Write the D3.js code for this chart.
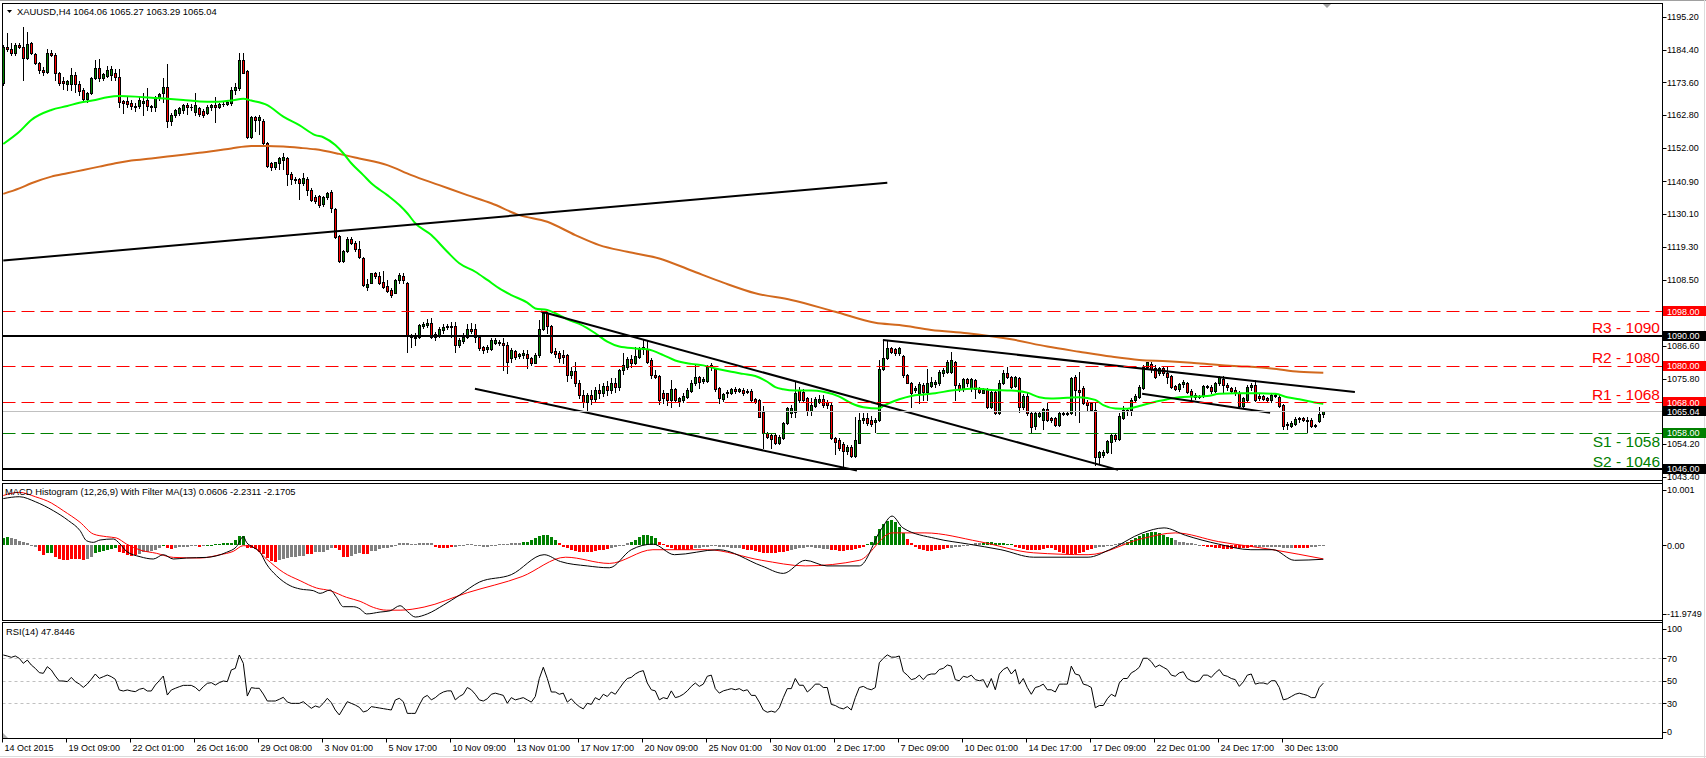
<!DOCTYPE html>
<html><head><meta charset="utf-8">
<script src="https://cdn.jsdelivr.net/npm/d3@7"></script>
<style>html,body{margin:0;padding:0;background:#fff;}svg{display:block;}</style>
</head><body><svg id="c" width="1706" height="758"></svg>
<script>
// ---------------- DATA ----------------
const candleOHLC = [
[1173.3,1185.8,1172.8,1185.2],[1185.2,1190.0,1184.1,1184.5],[1184.5,1186.5,1182.7,1183.2],[1183.2,1186.5,1182.7,1185.9],[1185.9,1186.5,1184.8,1185.2],
[1185.4,1192.0,1174.4,1181.5],[1181.5,1190.3,1181.2,1186.3],[1186.5,1187.0,1183.0,1183.2],[1183.0,1183.2,1179.7,1179.9],[1179.9,1180.4,1176.6,1177.7],
[1177.7,1178.6,1176.0,1177.1],[1177.1,1184.5,1176.8,1183.2],[1183.2,1184.3,1182.3,1182.6],[1182.6,1183.2,1174.4,1176.8],[1176.8,1177.1,1172.7,1173.5],
[1173.9,1175.3,1171.3,1173.5],[1173.1,1174.4,1171.1,1173.9],[1173.1,1178.2,1171.1,1176.0],[1176.0,1177.1,1170.5,1173.0],[1173.0,1173.9,1169.4,1170.9],
[1171.1,1171.6,1167.6,1168.0],[1168.0,1170.5,1167.2,1170.2],[1170.2,1175.5,1169.8,1174.9],[1174.9,1181.0,1174.6,1178.2],[1178.2,1181.2,1174.2,1174.9],
[1174.9,1176.6,1174.4,1176.3],[1175.7,1179.0,1175.3,1177.7],[1175.9,1179.0,1174.4,1177.9],[1176.6,1177.9,1174.4,1175.3],[1175.3,1177.9,1165.6,1167.2],
[1167.6,1167.8,1163.6,1166.7],[1167.6,1169.1,1165.4,1166.5],[1166.9,1167.8,1164.7,1165.8],[1165.8,1166.7,1164.3,1165.4],[1165.8,1169.1,1165.0,1167.8],
[1166.7,1170.2,1162.8,1167.6],[1167.8,1171.6,1164.5,1165.8],[1165.8,1166.1,1164.1,1165.4],[1165.4,1169.1,1164.3,1168.9],[1168.3,1170.0,1167.8,1169.8],
[1170.0,1174.9,1167.2,1172.2],[1172.2,1179.7,1158.9,1161.0],[1161.0,1163.6,1159.5,1162.8],[1162.8,1164.9,1162.3,1164.5],[1163.6,1165.4,1162.8,1165.0],
[1164.5,1166.5,1163.6,1166.1],[1166.1,1166.7,1163.2,1165.6],[1165.4,1166.5,1164.5,1165.6],[1163.9,1170.2,1162.8,1166.1],[1165.0,1165.4,1162.5,1163.2],
[1164.3,1164.7,1162.3,1162.8],[1163.6,1166.1,1163.2,1165.6],[1165.4,1166.5,1164.5,1166.1],[1166.1,1168.9,1160.6,1165.4],[1165.4,1166.9,1165.0,1166.5],
[1166.6,1167.2,1165.8,1166.6],[1166.5,1167.8,1166.1,1167.0],[1166.7,1172.0,1166.1,1171.1],[1171.1,1173.5,1169.8,1172.2],[1171.6,1183.2,1171.1,1181.0],
[1181.0,1183.2,1176.6,1176.8],[1177.4,1177.7,1155.1,1155.7],[1155.7,1162.5,1155.1,1162.3],[1162.3,1162.5,1157.5,1161.2],[1161.2,1162.8,1156.4,1162.3],
[1161.0,1161.4,1152.9,1153.5],[1153.5,1154.0,1145.6,1146.1],[1146.9,1147.4,1144.7,1145.8],[1145.8,1147.4,1145.0,1147.4],[1146.9,1148.9,1144.9,1148.5],
[1148.0,1150.2,1144.9,1148.9],[1148.7,1148.9,1139.7,1143.4],[1143.4,1144.0,1140.0,1141.6],[1141.6,1142.5,1140.5,1141.4],[1141.6,1142.0,1135.0,1140.5],
[1140.3,1143.6,1139.7,1142.0],[1141.6,1142.5,1136.4,1138.1],[1138.1,1138.6,1134.6,1134.8],[1135.7,1136.4,1133.7,1134.6],[1136.1,1136.4,1132.6,1133.1],
[1133.4,1136.1,1132.8,1135.9],[1135.9,1137.5,1135.2,1137.2],[1137.5,1138.1,1130.9,1132.0],[1131.7,1132.0,1122.4,1122.7],[1122.9,1123.2,1114.4,1114.8],
[1114.8,1118.3,1114.4,1117.9],[1117.9,1122.7,1117.7,1121.8],[1121.8,1122.7,1120.3,1120.7],[1120.7,1121.4,1118.1,1118.5],[1118.5,1121.4,1115.5,1115.9],
[1115.5,1115.9,1106.4,1106.7],[1106.1,1108.6,1105.2,1107.2],[1107.5,1110.8,1107.3,1110.6],[1110.6,1111.1,1108.9,1109.7],[1109.7,1111.1,1107.1,1107.3],
[1107.8,1111.5,1105.6,1106.2],[1106.4,1108.4,1104.5,1104.9],[1105.1,1105.6,1102.9,1103.4],[1104.2,1108.6,1104.0,1108.4],[1108.4,1110.6,1107.3,1110.0],
[1109.7,1110.6,1107.3,1108.4],[1107.5,1107.8,1084.7,1090.2],[1090.2,1090.4,1086.4,1089.7],[1089.7,1090.8,1086.9,1089.1],[1089.7,1093.9,1089.1,1093.5],
[1093.2,1094.6,1092.4,1093.9],[1093.5,1095.4,1093.0,1094.3],[1094.1,1095.7,1089.1,1089.7],[1090.6,1091.3,1088.6,1089.7],[1090.2,1093.0,1089.7,1092.1],
[1091.9,1093.9,1090.8,1093.0],[1093.0,1093.9,1092.1,1093.2],[1093.2,1094.6,1089.7,1092.8],[1093.2,1094.6,1084.7,1086.9],[1086.9,1089.1,1086.4,1088.6],
[1088.4,1090.8,1087.5,1089.7],[1089.5,1093.9,1089.1,1092.1],[1092.1,1094.1,1090.8,1091.7],[1092.1,1093.9,1088.0,1089.5],[1089.5,1089.9,1085.3,1085.8],
[1086.2,1086.6,1084.4,1085.3],[1085.5,1086.9,1084.7,1086.4],[1085.5,1089.1,1085.3,1088.6],[1087.7,1089.1,1087.3,1088.6],[1088.0,1088.6,1086.9,1087.7],
[1087.7,1089.1,1078.7,1086.9],[1086.9,1088.0,1077.6,1081.4],[1082.5,1085.8,1081.4,1085.3],[1085.1,1085.3,1082.2,1082.9],[1083.3,1084.2,1082.5,1083.8],
[1083.7,1085.3,1082.5,1084.2],[1083.8,1085.3,1079.2,1082.5],[1082.5,1083.1,1080.3,1080.9],[1081.1,1084.2,1080.9,1083.6],[1083.6,1095.2,1083.1,1092.1],
[1092.1,1097.9,1091.9,1097.6],[1097.6,1097.9,1090.8,1093.2],[1093.2,1093.5,1084.4,1084.7],[1085.1,1085.8,1083.1,1084.0],[1084.2,1085.1,1081.4,1082.5],
[1083.6,1085.3,1080.9,1083.1],[1083.6,1084.0,1075.0,1077.0],[1077.0,1079.5,1076.0,1078.2],[1078.2,1081.2,1073.5,1074.5],[1074.5,1075.5,1069.5,1070.5],
[1070.5,1072.0,1066.5,1068.0],[1068.0,1071.0,1065.5,1070.5],[1070.5,1072.0,1067.5,1069.0],[1069.0,1073.0,1068.0,1072.0],[1072.0,1074.0,1069.5,1071.0],
[1071.0,1074.5,1070.0,1073.5],[1073.5,1075.0,1070.5,1072.0],[1072.0,1076.0,1071.0,1074.5],[1074.5,1076.0,1071.5,1073.0],[1073.0,1079.0,1072.0,1078.7],
[1078.7,1084.2,1077.5,1080.3],[1079.8,1083.0,1079.0,1082.2],[1082.2,1083.5,1079.5,1081.0],[1081.1,1086.4,1080.5,1083.3],[1083.1,1086.4,1082.5,1085.5],
[1085.5,1088.6,1084.0,1086.4],[1085.5,1088.6,1081.0,1081.4],[1082.0,1082.5,1075.9,1077.0],[1077.0,1078.7,1075.9,1076.5],[1076.7,1077.0,1067.5,1068.8],
[1071.0,1072.1,1067.7,1069.3],[1071.0,1071.2,1067.1,1068.8],[1068.8,1075.4,1066.4,1072.3],[1072.3,1072.6,1068.2,1068.8],[1068.4,1069.9,1066.8,1069.3],
[1068.8,1071.0,1068.2,1070.1],[1069.9,1072.6,1069.3,1072.1],[1071.9,1075.4,1071.5,1074.5],[1074.3,1080.3,1073.7,1076.3],[1076.3,1076.7,1072.6,1074.8],
[1074.9,1076.5,1074.5,1075.8],[1075.2,1080.3,1074.8,1079.8],[1079.8,1080.9,1078.7,1080.3],[1078.9,1079.2,1071.9,1072.3],[1072.6,1073.0,1067.7,1069.3],
[1069.0,1071.2,1068.6,1070.8],[1071.0,1072.1,1069.9,1071.5],[1071.2,1072.6,1070.8,1072.3],[1072.5,1073.0,1071.2,1071.9],[1071.9,1072.6,1071.5,1072.3],
[1072.1,1072.6,1070.4,1071.0],[1071.5,1072.3,1071.0,1071.9],[1071.9,1072.3,1068.2,1068.8],[1069.0,1069.3,1067.7,1068.2],[1068.8,1069.0,1063.1,1063.3],
[1064.9,1066.8,1052.8,1057.8],[1058.0,1058.3,1056.1,1056.7],[1057.2,1058.0,1052.8,1055.8],[1057.2,1057.8,1054.3,1054.5],[1054.7,1057.2,1054.3,1056.5],
[1056.1,1061.6,1055.8,1061.3],[1061.3,1066.6,1060.9,1066.0],[1064.4,1067.1,1063.3,1066.0],[1064.9,1075.0,1063.1,1071.2],[1072.1,1073.0,1068.2,1068.8],
[1071.5,1072.3,1068.2,1068.8],[1069.3,1069.7,1063.8,1065.3],[1065.3,1069.3,1063.8,1067.1],[1066.8,1069.9,1066.4,1069.0],[1068.2,1070.4,1067.7,1069.0],
[1069.0,1070.4,1066.6,1067.1],[1068.2,1068.8,1066.0,1067.1],[1067.1,1067.7,1055.8,1056.1],[1056.1,1056.7,1051.0,1055.0],[1055.6,1056.1,1052.3,1052.8],
[1054.3,1055.0,1046.8,1052.1],[1052.1,1054.0,1051.0,1053.4],[1053.4,1054.0,1050.1,1050.3],[1050.3,1063.3,1050.1,1055.6],[1054.7,1064.4,1054.5,1062.2],
[1062.2,1064.4,1061.1,1062.7],[1062.7,1064.4,1060.5,1061.1],[1062.2,1063.5,1060.2,1060.9],[1061.6,1062.7,1058.3,1062.2],[1062.2,1082.0,1062.0,1078.9],
[1078.9,1088.6,1078.7,1082.5],[1082.5,1088.4,1082.2,1085.8],[1085.8,1086.4,1084.2,1084.7],[1085.5,1085.8,1083.6,1084.2],[1084.4,1086.4,1083.6,1085.8],
[1083.3,1083.6,1076.5,1077.0],[1077.0,1077.4,1074.3,1074.5],[1074.5,1074.8,1066.6,1071.0],[1072.1,1073.4,1071.5,1072.8],[1071.0,1074.8,1067.7,1074.1],
[1073.7,1074.3,1068.8,1071.5],[1071.5,1078.9,1068.8,1074.3],[1073.4,1076.5,1073.0,1074.8],[1074.1,1075.4,1073.2,1074.8],[1074.3,1078.7,1073.7,1078.1],
[1077.6,1079.2,1076.7,1078.7],[1078.1,1082.0,1077.6,1081.4],[1078.1,1084.7,1077.8,1082.0],[1081.4,1081.8,1068.8,1073.7],[1073.7,1074.3,1071.9,1072.3],
[1072.3,1075.9,1071.9,1075.6],[1075.6,1075.9,1073.4,1074.3],[1072.6,1075.9,1071.9,1075.6],[1075.4,1075.6,1069.3,1072.3],[1072.3,1073.0,1071.0,1071.5],
[1071.2,1072.6,1071.0,1072.1],[1072.1,1072.6,1066.2,1066.6],[1066.6,1072.3,1066.0,1071.5],[1071.5,1071.9,1064.2,1064.6],[1064.4,1075.4,1064.2,1074.5],
[1074.3,1078.7,1074.1,1077.8],[1077.8,1079.8,1076.0,1076.3],[1076.3,1076.7,1072.6,1073.0],[1073.4,1076.7,1073.0,1076.3],[1076.0,1076.5,1064.9,1066.4],
[1066.4,1070.8,1065.8,1070.1],[1070.1,1071.0,1063.8,1064.4],[1064.4,1064.9,1058.3,1059.8],[1060.2,1065.0,1059.1,1064.4],[1063.5,1065.0,1063.0,1064.6],
[1062.2,1066.0,1059.1,1065.7],[1065.7,1067.7,1062.0,1062.2],[1062.7,1063.3,1061.6,1062.2],[1062.7,1063.1,1060.2,1060.5],[1060.5,1064.9,1060.2,1064.6],
[1064.2,1064.9,1063.8,1064.6],[1064.6,1065.0,1063.8,1064.2],[1064.4,1076.5,1064.2,1075.9],[1076.5,1077.0,1063.8,1072.1],[1072.1,1078.1,1061.6,1071.5],
[1072.6,1073.4,1067.5,1067.7],[1068.2,1068.8,1065.5,1067.1],[1067.7,1068.2,1065.0,1065.5],[1065.5,1068.2,1047.3,1050.1],[1050.1,1052.1,1047.9,1051.7],
[1050.6,1052.3,1050.1,1051.7],[1051.7,1055.6,1051.2,1055.4],[1055.0,1057.6,1051.2,1057.2],[1057.2,1057.8,1055.4,1055.8],[1055.8,1064.4,1055.6,1063.5],
[1062.7,1066.8,1062.4,1065.5],[1065.0,1066.0,1063.8,1065.5],[1065.5,1069.3,1063.8,1068.8],[1068.8,1070.8,1068.6,1070.1],[1069.7,1073.7,1069.3,1073.0],
[1072.6,1080.3,1072.3,1079.8],[1079.8,1081.4,1079.2,1081.2],[1080.7,1081.4,1078.1,1079.0],[1079.2,1080.3,1075.9,1076.3],[1077.6,1079.8,1077.0,1079.2],
[1079.2,1079.8,1077.0,1077.6],[1077.6,1079.8,1074.3,1076.5],[1076.7,1077.0,1072.6,1073.0],[1073.4,1073.7,1072.1,1072.3],[1072.3,1074.5,1071.9,1074.1],
[1074.1,1075.4,1073.2,1074.8],[1074.3,1074.8,1071.0,1071.5],[1071.9,1072.3,1068.2,1070.4],[1070.4,1071.0,1069.0,1069.7],[1069.9,1070.4,1069.3,1070.1],
[1070.1,1073.7,1069.7,1073.4],[1073.4,1073.7,1072.6,1073.0],[1073.2,1073.7,1071.2,1071.9],[1071.9,1074.8,1071.5,1074.5],[1074.3,1076.7,1073.7,1076.3],
[1075.6,1076.7,1071.2,1073.7],[1073.7,1074.3,1072.1,1073.0],[1072.6,1073.0,1071.5,1071.9],[1072.1,1073.0,1070.4,1071.2],[1071.0,1071.9,1066.6,1066.8],
[1066.8,1069.9,1066.6,1069.3],[1068.8,1073.7,1068.6,1073.0],[1073.0,1074.5,1072.1,1073.7],[1073.7,1075.4,1068.6,1068.8],[1070.1,1071.0,1068.8,1069.3],
[1070.1,1070.4,1068.8,1069.2],[1069.3,1069.7,1068.6,1068.8],[1068.8,1071.0,1068.2,1070.4],[1070.4,1071.0,1069.7,1070.0],[1069.9,1070.4,1066.6,1066.8],
[1067.1,1067.5,1059.1,1060.2],[1060.5,1061.6,1059.1,1060.9],[1060.2,1062.0,1059.8,1061.3],[1060.9,1063.1,1060.4,1062.4],[1062.4,1063.3,1061.6,1062.7],
[1062.7,1063.3,1062.0,1062.2],[1062.2,1063.3,1058.3,1061.8],[1062.2,1062.7,1060.0,1060.2],[1060.4,1060.7,1060.0,1060.2],[1062.0,1066.6,1061.6,1064.2],
[1064.06,1065.27,1063.29,1065.04]
];

const xTickBars = [0,16,32,48,64,80,96,112,128,144,160,176,192,208,224,240,256,272,288,304,320];
const xTickLabels = ["14 Oct 2015","19 Oct 09:00","22 Oct 01:00","26 Oct 16:00","29 Oct 08:00","3 Nov 01:00","5 Nov 17:00","10 Nov 09:00","13 Nov 01:00","17 Nov 17:00","20 Nov 09:00","25 Nov 01:00","30 Nov 01:00","2 Dec 17:00","7 Dec 09:00","10 Dec 01:00","14 Dec 17:00","17 Dec 09:00","22 Dec 01:00","24 Dec 17:00","30 Dec 13:00"];
const priceTicks = [1195.20,1184.40,1173.60,1162.80,1152.00,1140.90,1130.10,1119.30,1108.50,1086.60,1075.80,1054.20,1043.40];

// moving averages: [bar, price]
const maFast = [[0,1153.3],[4,1157.3],[7,1161.2],[12,1164.5],[16,1165.8],[19,1166.9],[23,1167.8],[26,1168.7],[29,1169.1],[33,1168.9],[37,1168.5],[41,1168.2],[45,1167.8],[49,1167.3],[53,1167.2],[57,1167.6],[60,1168.2],[62,1167.6],[66,1166.1],[70,1162.3],[74,1159.5],[78,1156.2],[80,1155.5],[83,1152.9],[85,1150.2],[87,1146.9],[90,1143.0],[92,1140.3],[96,1136.4],[99,1133.1],[101,1130.4],[103,1127.1],[107,1123.2],[111,1117.7],[114,1113.9],[118,1111.1],[121,1108.4],[124,1105.6],[127,1103.4],[131,1100.9],[133,1099.0],[136,1098.5],[138,1097.4],[141,1095.4],[144,1093.9],[148,1090.8],[151,1088.0],[154,1086.4],[158,1085.8],[161,1085.5],[165,1083.6],[168,1081.8],[172,1080.7],[175,1080.2],[178,1079.2],[182,1078.1],[185,1077.4],[188,1076.7],[191,1074.8],[193,1073.0],[195,1072.3],[198,1071.9],[202,1071.9],[205,1071.5],[209,1069.9],[212,1067.7],[215,1066.4],[219,1066.0],[220,1066.8],[224,1069.0],[227,1070.1],[230,1070.6],[233,1071.0],[237,1071.9],[240,1072.3],[243,1072.6],[247,1072.1],[252,1071.9],[256,1071.2],[259,1069.7],[262,1069.3],[266,1069.5],[269,1069.7],[273,1068.8],[275,1067.1],[278,1066.0],[281,1065.9],[284,1066.8],[288,1068.2],[291,1069.0],[294,1069.7],[298,1069.9],[301,1070.1],[304,1070.8],[308,1071.0],[311,1071.0],[314,1071.0],[318,1070.8],[321,1069.7],[324,1069.0],[327,1068.2],[330,1067.5]];
const maSlow = [[0,1136.8],[4,1138.6],[7,1140.3],[12,1142.5],[16,1143.6],[20,1144.7],[24,1145.8],[28,1146.9],[32,1147.8],[37,1148.5],[41,1149.1],[45,1149.7],[49,1150.4],[53,1151.0],[57,1151.8],[62,1152.6],[66,1152.6],[70,1152.4],[74,1152.0],[78,1151.5],[84,1150.0],[89,1148.5],[96,1146.3],[102,1143.0],[109,1139.7],[116,1136.4],[122,1133.7],[129,1129.8],[136,1127.6],[143,1123.2],[149,1119.9],[156,1117.7],[164,1115.5],[172,1111.5],[180,1107.5],[188,1104.0],[197,1101.8],[208,1097.9],[218,1094.3],[224,1093.5],[232,1091.9],[241,1090.8],[246,1090.0],[252,1088.8],[261,1086.4],[269,1084.7],[277,1083.1],[284,1082.0],[291,1081.6],[297,1081.1],[304,1080.3],[311,1079.8],[317,1079.2],[324,1078.1],[330,1077.8]];

// drawn trend lines: [[bar, price],[bar, price]]
const trendLines = [
 [[0,1114.8],[221,1140.5]],
 [[134.4,1098.0],[278.7,1045.7]],
 [[117.9,1072.5],[213.4,1045.5]],
 [[219.9,1088.6],[337.9,1071.4]],
 [[284.7,1070.8],[316.7,1064.6]]
];

const levelPrices = [1098,1090,1080,1068,1058,1046];
const levelKinds  = ["res","major","res","res","sup","major"];
const currentPrice = 1065.04;
const levelTexts = ["R3 - 1090","R2 - 1080","R1 - 1068","S1 - 1058","S2 - 1046"];
const levelTextPrices = [1090,1080,1068,1052.5,1046];
const levelTextKinds = ["res","res","res","sup","sup"];

const macdHist = [
1.2,1.3,1.2,1.0,0.75,0.5,0.3,0.1,-0.2,-0.96,
-1.5,-1.28,-1.28,-1.93,-2.2,-2.35,-2.35,-2.25,-2.25,-2.25,
-2.35,-2.2,-1.93,-1.28,-1.12,-0.86,-0.7,-0.59,-0.43,-1.12,
-1.28,-1.5,-1.66,-1.5,-1.4,-1.12,-1.12,-0.96,-0.75,-0.35,
0.1,-0.43,-0.59,-0.43,-0.32,-0.2,-0.2,-0.1,-0.05,-0.2,
-0.1,0.1,0.1,0.15,0.25,0.3,0.4,0.45,0.86,1.55,
1.55,-0.43,-0.43,-0.64,-1.12,-1.39,-2.03,-2.46,-2.73,-2.35,
-2.2,-2.0,-1.9,-1.8,-1.7,-1.66,-1.39,-1.39,-1.12,-1.12,
-1.1,-0.8,-0.5,-0.43,-0.75,-1.82,-1.93,-1.66,-1.39,-1.28,
-1.39,-1.39,-0.96,-0.86,-0.59,-0.43,-0.43,-0.32,-0.1,0.32,
0.3,0.3,0.2,0.2,0.3,0.4,0.4,0.3,
-0.2,-0.4,-0.5,-0.4,-0.3,
-0.2,-0.1,0.1,0.2,0.2,0.1,-0.1,-0.2,-0.2,-0.1,0.1,0.2,0.2,0.2,0.3,0.3,0.4,
0.5,0.6,0.8,1.1,1.5,1.7,1.6,1.3,0.9,
0.3,-0.2,-0.5,-0.7,-0.9,-1.0,-1.1,-1.1,-1.0,-0.9,-0.8,-0.7,-0.6,
-0.5,-0.3,-0.1,0.1,0.3,
0.6,0.9,1.3,1.6,1.7,1.5,1.2,
0.6,0.2,-0.2,-0.5,-0.7,-0.8,-0.8,-0.7,-0.6,
-0.5,-0.4,-0.3,-0.2,-0.1,-0.1,-0.2,-0.3,-0.3,-0.4,-0.4,-0.5,
-0.6,-0.7,-0.8,-0.9,-1.0,-1.2,-1.3,-1.3,-1.2,-1.1,-1.0,-0.9,
-0.8,-0.6,-0.5,-0.4,-0.3,-0.3,-0.4,-0.5,-0.6,-0.6,
-0.7,-0.8,-0.9,-0.9,-0.8,-0.7,-0.6,-0.5,-0.3,
0.2,0.6,1.5,2.6,3.4,3.9,4.1,3.8,3.0,2.0,
1.0,0.3,-0.3,-0.6,-0.8,-0.9,-0.9,-0.8,-0.7,-0.6,-0.5,
-0.4,-0.3,-0.2,-0.1,0.1,0.2,0.3,0.3,
0.4,0.5,0.5,0.4,0.3,0.3,0.2,0.2,
-0.2,-0.4,-0.6,-0.7,-0.8,-0.8,-0.7,-0.6,-0.5,-0.5,-0.8,-1.0,-1.2,-1.4,-1.5,-1.4,-1.2,-1.0,-0.8,-0.6,
-0.4,-0.3,-0.2,-0.1,0.1,0.2,0.3,0.4,
0.6,0.9,1.2,1.5,1.8,2.0,2.2,2.2,2.0,1.7,1.4,1.1,
0.8,0.6,0.5,0.4,0.3,0.2,0.1,
-0.1,-0.2,-0.3,-0.4,-0.5,-0.6,-0.6,-0.6,-0.5,-0.5,-0.4,-0.4,-0.3,
-0.3,-0.3,-0.2,-0.2,-0.2,-0.3,-0.3,-0.4,-0.4,-0.4,
-0.5,-0.5,-0.4,-0.4,-0.3,-0.2,-0.1,0.06
];
// colour runs of the histogram: g = green, r = red, k = grey
const macdHistColorRuns = [["g",2],["k",7],["r",2],["g",2],["r",8],["k",2],["g",6],["r",5],["k",6],["g",1],["r",2],["k",6],["r",1],["k",1],["g",10],["r",8],["k",7],["r",2],["k",5],["r",4],["k",3],["r",2],["k",8],
["k",8],["r",5],["k",17],["g",9],["r",13],["k",5],["g",7],["r",9],["k",12],["r",12],["k",10],["r",9],["g",10],["r",11],["k",8],["g",8],["r",20],["k",8],["g",12],["k",7],["r",13],["k",10],["r",4],["k",4]];
const macdMain = [[0,7.5],[4,7.8],[8,7.0],[12.5,5.56],[16.3,3.96],[19.2,2.35],[20.8,0.75],[22.5,0.48],[24.2,0.86],[27.5,1.02],[29.2,0.21],[30.8,-0.96],[34.2,-1.82],[37.5,-2.19],[40,-1.5],[42.5,-2.19],[45.8,-2.03],[50.8,-1.93],[55.8,-1.12],[58.3,-0.21],[60,1.39],[60.8,0.48],[62.5,-0.32],[64.2,-1.12],[65.8,-3.0],[68.3,-4.87],[71.7,-6.47],[74.2,-7.0],[77.5,-7.27],[79.2,-7.7],[81.7,-7.17],[83.3,-8.34],[85,-9.84],[87.5,-9.84],[89.2,-10.2],[90.8,-11.0],[94.2,-10.7],[96.7,-10.5],[99.2,-9.68],[101,-10.6],[103,-11.5],[106,-11.0],[110,-9.6],[114,-8.0],[119,-5.9],[127,-4.7],[135.2,-1.5],[139.3,-2.6],[146,-3.3],[151.5,-3.6],[157,-0.7],[162.4,0.2],[167.8,-1.5],[178.7,-0.7],[189.6,-3.3],[195,-4.5],[200.5,-2.4],[205.9,-3.3],[214,-3.3],[219.5,2.6],[222.2,4.7],[224.9,2.8],[233.1,1.1],[241.3,0.2],[249.4,-0.7],[257.6,-1.9],[265.7,-1.9],[271.2,-1.9],[276.6,-0.7],[284.8,2.0],[290.2,2.8],[295.6,1.6],[303.8,0.2],[311.9,-0.7],[317.4,-0.7],[322.8,-2.4],[330,-2.2311]];
const macdSignal = [[0,8.0],[4,8.5],[8,7.8],[12,6.8],[15,5.56],[19.2,3.69],[22.5,1.82],[25.8,1.39],[28.3,1.18],[30.8,0.21],[34.2,-0.75],[38.3,-1.28],[42.5,-1.93],[49.2,-2.03],[54.2,-1.5],[57.5,-0.96],[60,-0.05],[62.5,-0.32],[65.8,-2.19],[70,-4.33],[74.2,-5.67],[78.3,-6.84],[81.7,-7.27],[85.8,-8.34],[89.2,-8.98],[92.5,-9.95],[95.8,-10.4],[99.2,-10.4],[105.2,-9.9],[116,-7.6],[129.7,-5.0],[140.6,-1.9],[151.5,-2.9],[162.4,-0.7],[176,-0.7],[189.6,-2.4],[200.5,-3.3],[214,-2.4],[222.2,2.0],[230.4,2.0],[244,0.6],[257.6,-1.2],[271.2,-1.5],[284.8,1.1],[293,2.0],[303.8,0.6],[317.4,-0.7],[330,-2.1705]];
const macdTicks = [10.001,0,-11.9749];
const macdTickLabels = ["10.001","0.00","-11.9749"];

const rsiValues = [
72.9,72.0,70.8,72.0,69.9,65.5,68.4,64.0,61.0,57.2,
56.6,62.5,59.6,54.2,49.8,49.8,49.2,53.0,49.2,47.1,
44.1,47.1,51.3,56.0,52.1,53.6,55.1,53.6,51.3,41.8,
40.9,41.8,40.9,40.3,42.4,43.3,40.9,40.9,46.2,50.1,
54.2,37.3,41.8,43.3,44.7,45.9,45.9,45.9,44.1,40.9,
44.7,47.7,48.3,46.2,48.3,49.8,49.2,59.6,61.0,72.9,
65.5,36.4,43.9,43.3,43.3,38.2,32.0,32.0,32.0,33.5,
35.3,31.1,29.9,29.9,29.9,31.4,28.4,25.5,27.6,26.4,
29.9,34.4,30.5,24.0,19.6,25.5,31.4,29.9,28.4,26.4,
22.2,23.4,27.0,26.4,25.8,25.2,24.6,24.0,32.9,34.4,
31.4,21.0,21.0,21.0,28.4,
35,37,33,35,38,40,41,41,
33,36,38,44,42,38,33,32,34,38,39,38,
37,30,35,33,34,35,33,31,36,
52,62,52,40,
40,38,39,31,34,30,27,25,30,29,35,33,38,
36,40,38,43,48,52,53,56,58,59,48,
42,41,33,35,34,41,35,36,38,
41,45,48,45,47,54,55,43,39,41,
42,43,42,43,41,42,37,37,31,
24,22,23,22,26,35,43,43,52,
46,46,40,43,47,47,44,44,
29,28,26,25,27,24,35,44,45,43,42,44,
66,70,73,71,71,72,
58,55,51,52,55,51,55,56,56,60,61,64,63,51,50,54,
53,55,51,50,51,44,52,42,56,60,62,56,60,47,52,44,
38,44,45,47,42,42,40,47,47,47,63,56,55,47,46,44,
26,28,28,34,38,36,48,52,52,57,59,62,70,
70,67,62,64,62,60,55,54,57,58,52,50,49,50,55,
55,53,57,60,55,54,52,51,45,49,55,56,47,48,48,47,50,50,
44,33,34,36,38,39,38,37,35,35,44,47.8446
];
const rsiTicks = [100,70,50,30,0];
const rsiLevels = [70,50,30];

// ---------------- RENDER ----------------
const FONT = '"Liberation Sans", Arial, sans-serif';
const svg = d3.select("#c");
const AX = 1662.5, LX = 2.5;
const P = {main:[3.5,480.5], macd:[483.5,620.5], rsi:[622.5,738.5]};
const nBars = candleOHLC.length;
const x = d3.scaleLinear().domain([0,330]).range([3.3,1323.3]);
const yP = d3.scaleLinear().domain([1042.37,1199.8]).range([480,3]);
const yM = d3.scaleLinear().domain([-11.9749,10.001]).range([620,483]);
const yR = d3.scaleLinear().domain([0,100]).range([737,624.5]);
const cxOf = i => Math.round(x(i)) + 0.5;

const defs = svg.append("defs");
Object.entries(P).forEach(([k,[t,b]]) => {
  defs.append("clipPath").attr("id","clip-"+k).append("rect")
    .attr("x",LX+0.5).attr("y",t+0.5).attr("width",AX-LX-1).attr("height",b-t-1);
});

// outer frame
svg.append("rect").attr("x",0).attr("y",0).attr("width",1706).attr("height",758).attr("fill","#fff");
svg.append("line").attr("x1",0).attr("x2",1706).attr("y1",0.5).attr("y2",0.5).attr("stroke","#a0a0a0");
svg.append("line").attr("x1",1704.5).attr("x2",1704.5).attr("y1",0).attr("y2",758).attr("stroke","#dcdcdc");
svg.append("line").attr("x1",0).attr("x2",1706).attr("y1",756.5).attr("y2",756.5).attr("stroke","#dcdcdc");

// ---- main panel ----
const gMain = svg.append("g").attr("clip-path","url(#clip-main)");
candleOHLC.forEach((d,i) => {
  const [o,h,l,c] = d;
  const cx = cxOf(i);
  gMain.append("line").attr("x1",cx).attr("x2",cx)
    .attr("y1",Math.round(yP(h))).attr("y2",Math.round(yP(l))+1).attr("stroke","#000");
  const yt = Math.round(yP(Math.max(o,c))), yb = Math.round(yP(Math.min(o,c)));
  if (yb - yt < 2) {
    gMain.append("rect").attr("x",cx-1.5).attr("y",yt).attr("width",3).attr("height",Math.max(1,yb-yt+1)).attr("fill","#000");
  } else {
    gMain.append("rect").attr("x",cx-1).attr("y",yt+0.5).attr("width",2).attr("height",yb-yt)
      .attr("fill", c>=o ? "#008000" : "#ff0000").attr("stroke","#000").attr("stroke-width",1);
  }
});
const maLine = d3.line().x(d=>x(d[0])).y(d=>yP(d[1])).curve(d3.curveMonotoneX);
gMain.append("path").attr("d",maLine(maSlow)).attr("fill","none").attr("stroke","#d2691e").attr("stroke-width",2);
gMain.append("path").attr("d",maLine(maFast)).attr("fill","none").attr("stroke","#00ff00").attr("stroke-width",2);

const levelY = v => Math.round(yP(v));
svg.append("line").attr("x1",LX).attr("x2",AX).attr("y1",levelY(currentPrice)+0.5).attr("y2",levelY(currentPrice)+0.5).attr("stroke","#c0c0c0");
levelPrices.forEach((v,k) => {
  const kind = levelKinds[k];
  const ln = svg.append("line").attr("x1",LX).attr("x2",AX);
  if (kind === "major") {
    ln.attr("y1",levelY(v)).attr("y2",levelY(v)).attr("stroke","#000").attr("stroke-width",2);
  } else {
    ln.attr("y1",levelY(v)+0.5).attr("y2",levelY(v)+0.5).attr("stroke", kind==="res" ? "#ff0000" : "#008000")
      .attr("stroke-dasharray","13,6");
  }
});
trendLines.forEach(t => {
  gMain.append("line").attr("x1",x(t[0][0])).attr("y1",yP(t[0][1])).attr("x2",x(t[1][0])).attr("y2",yP(t[1][1]))
    .attr("stroke","#000").attr("stroke-width",2);
});
levelTexts.forEach((s,k) => {
  svg.append("text").attr("x",1660).attr("y",yP(levelTextPrices[k])-2.5).attr("text-anchor","end")
    .attr("font-family",FONT).attr("font-size",15.5).attr("fill", levelTextKinds[k]==="res" ? "#ff0000" : "#008000").text(s);
});
svg.append("path").attr("d","M7,10 L12,10 L9.5,13 Z").attr("fill","#000");
svg.append("text").attr("x",17).attr("y",14.5).attr("font-family",FONT).attr("font-size",9.4).attr("fill","#000")
  .text("XAUUSD,H4  1064.06 1065.27 1063.29 1065.04");
svg.append("path").attr("d","M1323,4 L1331,4 L1327,8 Z").attr("fill","#a0a0a0");

// ---- MACD panel ----
const gMacd = svg.append("g").attr("clip-path","url(#clip-macd)");
const histColors = [];
macdHistColorRuns.forEach(([c,n]) => { for (let j=0;j<n;j++) histColors.push(c); });
const colMap = {g:"#008000", r:"#ff0000", k:"#808080"};
const y0 = Math.round(yM(0));
macdHist.forEach((v,i) => {
  if (i >= nBars) return;
  const yv = Math.round(yM(v));
  const top = Math.min(y0,yv), h = Math.max(1, Math.abs(yv-y0));
  gMacd.append("rect").attr("x",cxOf(i)-1.5).attr("y",top).attr("width",3).attr("height",h)
    .attr("fill", colMap[histColors[i]||"k"]);
});
const mLine = d3.line().x(d=>x(d[0])).y(d=>yM(d[1])).curve(d3.curveMonotoneX);
gMacd.append("path").attr("d",mLine(macdSignal)).attr("fill","none").attr("stroke","#ff0000").attr("stroke-width",1);
gMacd.append("path").attr("d",mLine(macdMain)).attr("fill","none").attr("stroke","#000").attr("stroke-width",1);
svg.append("text").attr("x",5).attr("y",494.5).attr("font-family",FONT).attr("font-size",9.4).attr("fill","#000")
  .text("MACD Histogram (12,26,9) With Filter MA(13) 0.0606 -2.2311 -2.1705");

// ---- RSI panel ----
const gRsi = svg.append("g").attr("clip-path","url(#clip-rsi)");
rsiLevels.forEach(v => {
  gRsi.append("line").attr("x1",LX).attr("x2",AX).attr("y1",Math.round(yR(v))+0.5).attr("y2",Math.round(yR(v))+0.5)
    .attr("stroke","#c0c0c0").attr("stroke-dasharray","3,3");
});
const rLine = d3.line().x((d,i)=>x(i)).y(d=>yR(d));
gRsi.append("path").attr("d",rLine(rsiValues.slice(0,nBars))).attr("fill","none").attr("stroke","#000").attr("stroke-width",1);
svg.append("text").attr("x",6).attr("y",635).attr("font-family",FONT).attr("font-size",9.4).attr("fill","#000").text("RSI(14) 47.8446");
svg.append("path").attr("d","M3,733 L3,738 L8,738 Z").attr("fill","#b0b0b0");

// ---- panel borders ----
Object.values(P).forEach(([t,b]) => {
  svg.append("rect").attr("x",LX).attr("y",t).attr("width",AX-LX).attr("height",b-t)
    .attr("fill","none").attr("stroke","#000");
});

// ---- right axis ----
const axisG = svg.append("g").attr("font-family",FONT).attr("font-size",9).attr("fill","#000");
function rightLabel(y, txt) {
  axisG.append("line").attr("x1",AX).attr("x2",AX+4).attr("y1",Math.round(y)+0.5).attr("y2",Math.round(y)+0.5).attr("stroke","#000");
  axisG.append("text").attr("x",1667).attr("y",y+3.3).text(txt);
}
priceTicks.forEach(v => rightLabel(yP(v), d3.format(".2f")(v)));
macdTicks.forEach((v,k) => {
  let y = yM(v);
  y = Math.max(P.macd[0]+6.5, Math.min(P.macd[1]-7, y));
  rightLabel(y, macdTickLabels[k]);
});
rsiTicks.forEach(v => {
  let y = yR(v);
  y = Math.max(P.rsi[0]+6.5, Math.min(P.rsi[1]-7, y));
  rightLabel(y, String(v));
});
const boxColor = {res:"#ff0000", major:"#000000", sup:"#008000"};
function priceBox(v, col) {
  const y = yP(v);
  svg.append("rect").attr("x",1663).attr("y",Math.round(y)-5).attr("width",43).attr("height",10).attr("fill",col);
  svg.append("text").attr("x",1667).attr("y",y+3.3).attr("font-family",FONT).attr("font-size",9).attr("fill","#fff").text(d3.format(".2f")(v));
}
levelPrices.forEach((v,k) => priceBox(v, boxColor[levelKinds[k]]));
priceBox(currentPrice, "#000000");

// ---- x axis ----
const xg = svg.append("g").attr("font-family",FONT).attr("font-size",9).attr("fill","#000");
xTickBars.forEach((b,k) => {
  const tx = Math.round(x(b)) - 0.5;
  xg.append("line").attr("x1",tx).attr("x2",tx).attr("y1",738.5).attr("y2",742.5).attr("stroke","#000");
  xg.append("text").attr("x",tx+2).attr("y",751).text(xTickLabels[k]);
});
svg.append("line").attr("x1",AX).attr("x2",AX).attr("y1",3).attr("y2",739).attr("stroke","#000");
</script>
</body></html>
